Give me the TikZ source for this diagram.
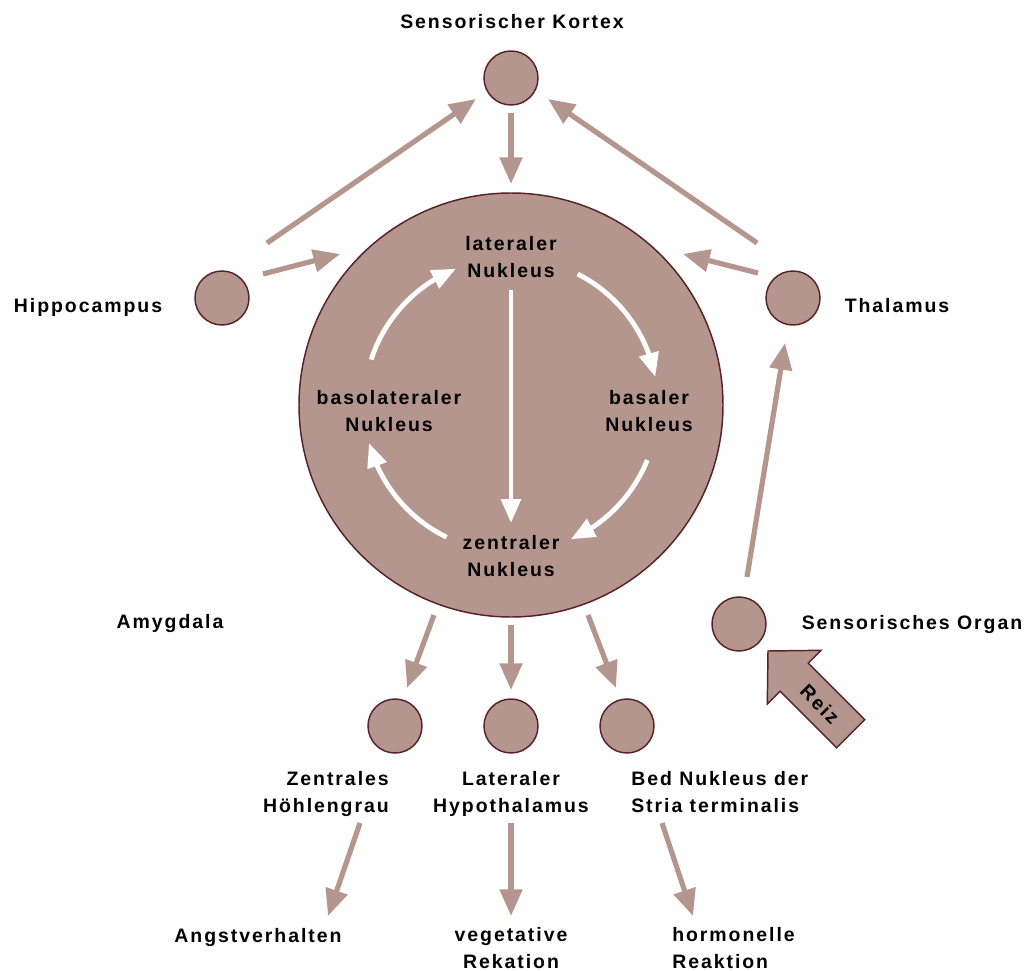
\documentclass[tikz,border=0pt]{standalone}
\usepackage{fontspec}
\setmainfont{Liberation Sans}[LetterSpace=10]
\usetikzlibrary{arrows.meta,calc,bending}
\definecolor{rose}{RGB}{180,150,142}
\definecolor{rim}{RGB}{88,34,40}
\tikzset{
  nucleus/.style={circle, draw=rim, fill=rose, line width=1.1pt, inner sep=0pt, minimum size=40.5pt},
  amyg/.style={circle, draw=rim, fill=rose, line width=1.1pt, inner sep=0pt, minimum size=318pt},
  lbl/.style={font=\bfseries\fontsize{14.6}{20.25}\selectfont, inner sep=0pt, text=black},
  arr/.style={draw=rose, line width=3.9pt, -{Triangle[length=20pt,width=16.5pt]}},
  warr/.style={draw=white, line width=3.6pt, -{Triangle[length=18pt,width=14.5pt]}},
}
\begin{document}
\begin{tikzpicture}[x=0.75pt,y=-0.75pt]
\useasboundingbox (0,0) rectangle (1027,970);

% main structures
\node[amyg] (amyg) at (511,405) {};
\node[nucleus] (kortex) at (511,78) {};
\node[nucleus] (hippo) at (222,298) {};
\node[nucleus] (thal) at (793,298) {};
\node[nucleus] (organ) at (739,624) {};
\node[nucleus] (zh) at (395,726) {};
\node[nucleus] (lh) at (511,726) {};
\node[nucleus] (bn) at (627,726) {};

% outer labels
\node[lbl, anchor=base] (kortexlab) at (512,29) {Sensorischer Kortex};
\node[lbl, anchor=base] (hippolab) at (88,312) {Hippocampus};
\node[lbl, anchor=base] (thallab) at (897,312) {Thalamus};
\node[lbl, anchor=base] (amyglab) at (170,628) {Amygdala};
\node[lbl, anchor=base] (organlab) at (912,629) {Sensorisches Organ};

% nuclei of the amygdala
\node[lbl, anchor=base, align=center] (lat) at (511,277) {lateraler\\Nukleus};
\node[lbl, anchor=base, align=center] (baso) at (389,431) {basolateraler\\Nukleus};
\node[lbl, anchor=base, align=center] (bas) at (649,431) {basaler\\Nukleus};
\node[lbl, anchor=base, align=center] (zen) at (511,576) {zentraler\\Nukleus};

% output targets
\node[lbl, anchor=base east, align=right] (zhlab) at (389,812) {Zentrales\\Höhlengrau};
\node[lbl, anchor=base, align=center] (lhlab) at (511,812) {Lateraler\\Hypothalamus};
\node[lbl, anchor=base west, align=left] (bnlab) at (631,812) {Bed Nukleus der\\Stria terminalis};
\node[lbl, anchor=base] (angst) at (258,942) {Angstverhalten};
\node[lbl, anchor=base, align=center] (veg) at (511,968) {vegetative\\Rekation};
\node[lbl, anchor=base west, align=left] (horm) at (672,968) {hormonelle\\Reaktion};

% afferent pathways
\draw[arr] ($(hippo)+(45,-55)$) -- ($(kortex)+(-35,21)$);
\draw[arr] ($(hippo)+(41,-24)$) -- ($(amyg)+(-171,-151)$);
\draw[arr] ($(kortex)+(0,35)$) -- ($(amyg)+(0,-221)$);
\draw[arr] ($(thal)+(-36,-55)$) -- ($(kortex)+(37,21)$);
\draw[arr] ($(thal)+(-35,-25)$) -- ($(amyg)+(172,-151)$);
\draw[arr] ($(organ)+(8,-47)$) -- ($(thal)+(-8,45)$);

% efferent pathways
\draw[arr] ($(amyg)+(-77,210)$) -- ($(zh)+(12,-38)$);
\draw[arr] ($(amyg)+(0,220)$) -- ($(lh)+(0,-36)$);
\draw[arr] ($(amyg)+(77,210)$) -- ($(bn)+(-11,-38)$);
\draw[arr] ($(zhlab.base east)+(-29,11)$) -- ($(angst.base)+(70,-26)$);
\draw[arr] ($(lhlab.base)+(0,11)$) -- ($(veg.base)+(0,-52)$);
\draw[arr] ($(bnlab.base west)+(31,11)$) -- ($(horm.base west)+(21,-52)$);

% internal circuit
\draw[warr] ($(amyg.center)+(-162:147)$) arc[start angle=-162, end angle=-112, radius=147];
\draw[warr] ($(amyg.center)+(-63:147)$) arc[start angle=-63, end angle=-11, radius=147];
\draw[warr] ($(amyg.center)+(22:147)$) arc[start angle=22, end angle=66, radius=147];
\draw[warr] ($(amyg.center)+(116:147)$) arc[start angle=116, end angle=165, radius=147];
\draw[warr] ($(amyg.center)+(0,-115)$) -- ($(amyg.center)+(0,118)$);

% stimulus
\draw[draw=rim, fill=rose, line width=1.1pt, line join=miter]
  (768,651) -- (821.1,650.3) -- (808.3,663.1) -- (864.8,719.6)
  -- (836.6,747.8) -- (780.1,691.3) -- (767.3,704.1) -- cycle;
\node[lbl, rotate=-45] (reiz) at (820,704) {Reiz};
\end{tikzpicture}
\end{document}
